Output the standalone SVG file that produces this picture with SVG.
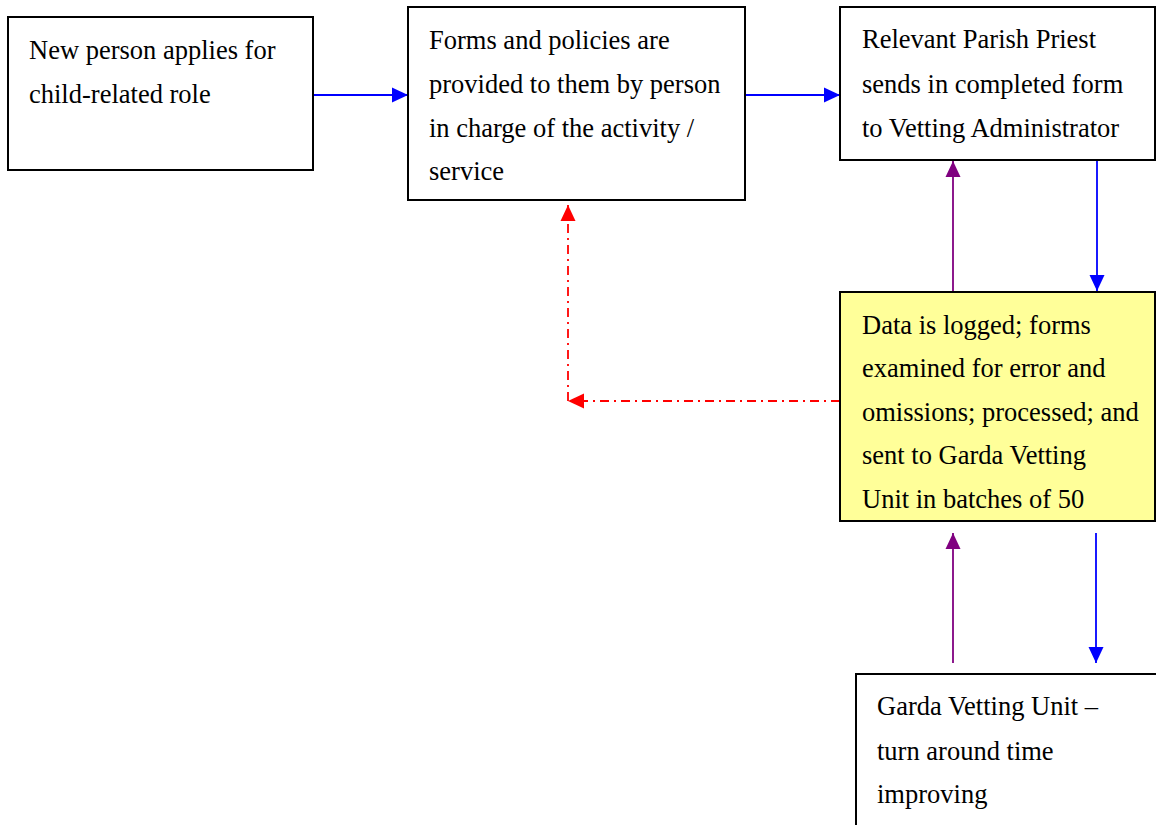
<svg xmlns="http://www.w3.org/2000/svg" width="1156" height="825" viewBox="0 0 1156 825">
<style>
.box{fill:#ffffff;stroke:#000000;stroke-width:2}
.yellow{fill:#ffff99;stroke:#000000;stroke-width:2}
text{font-family:"Liberation Serif","Times New Roman",serif;font-size:26.5px;fill:#000000}
.blue{stroke:#0000ff;stroke-width:1.8;fill:none}
.purple{stroke:#800080;stroke-width:1.8;fill:none}
.red{stroke:#ff0000;stroke-width:1.8;fill:none;stroke-dasharray:9 5 2 5}
</style>
<defs>
<marker id="ab" markerUnits="userSpaceOnUse" markerWidth="16" markerHeight="16" viewBox="0 0 16 16" refX="16" refY="8" orient="auto"><path d="M0,0.5 L16,8 L0,15.5 Z" fill="#0000ff"/></marker>
<marker id="ap" markerUnits="userSpaceOnUse" markerWidth="16" markerHeight="16" viewBox="0 0 16 16" refX="16" refY="8" orient="auto"><path d="M0,0.5 L16,8 L0,15.5 Z" fill="#800080"/></marker>
<marker id="ar" markerUnits="userSpaceOnUse" markerWidth="16" markerHeight="16" viewBox="0 0 16 16" refX="16" refY="8" orient="auto"><path d="M0,0.5 L16,8 L0,15.5 Z" fill="#ff0000"/></marker>
</defs>
<g id="connectors">
<line class="blue" x1="313" y1="95" x2="408" y2="95" marker-end="url(#ab)"/>
<line class="blue" x1="745" y1="95" x2="840" y2="95" marker-end="url(#ab)"/>
<line class="blue" x1="1097" y1="160" x2="1097" y2="291" marker-end="url(#ab)"/>
<line class="purple" x1="953" y1="291" x2="953" y2="161" marker-end="url(#ap)"/>
<line class="red" x1="840" y1="401" x2="568" y2="401" marker-end="url(#ar)"/>
<line class="red" x1="568" y1="401" x2="568" y2="205" marker-end="url(#ar)"/>
<line class="purple" x1="953" y1="663" x2="953" y2="533" marker-end="url(#ap)"/>
<line class="blue" x1="1096" y1="533" x2="1096" y2="663" marker-end="url(#ab)"/>
</g>
<g id="node1">
<rect class="box" x="8" y="17" width="305" height="153"/>
<text x="29" y="59">New person applies for</text>
<text x="29" y="103">child-related role</text>
</g>
<g id="node2">
<rect class="box" x="408" y="7" width="337" height="193"/>
<text x="429" y="49">Forms and policies are</text>
<text x="429" y="93">provided to them by person</text>
<text x="429" y="137">in charge of the activity /</text>
<text x="429" y="180">service</text>
</g>
<g id="node3">
<rect class="box" x="840" y="7" width="315" height="153"/>
<text x="862" y="48">Relevant Parish Priest</text>
<text x="862" y="93">sends in completed form</text>
<text x="862" y="137">to Vetting Administrator</text>
</g>
<g id="node4">
<rect class="yellow" x="840" y="292" width="315" height="229"/>
<text x="862" y="334">Data is logged; forms</text>
<text x="862" y="377">examined for error and</text>
<text x="862" y="421">omissions; processed; and</text>
<text x="862" y="464">sent to Garda Vetting</text>
<text x="862" y="508">Unit in batches of 50</text>
</g>
<g id="node5">
<rect class="box" x="856" y="674" width="310" height="170"/>
<text x="877" y="715">Garda Vetting Unit –</text>
<text x="877" y="760">turn around time</text>
<text x="877" y="803">improving</text>
</g>
</svg>
